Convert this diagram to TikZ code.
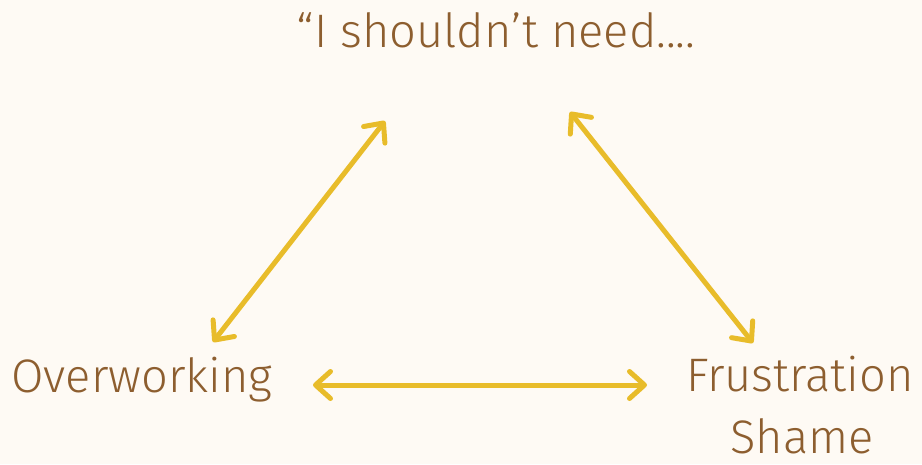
\documentclass[tikz,border=0pt]{standalone}
\usepackage{fontspec}
\setmainfont{Fira Sans}[UprightFont=* Light]
\usetikzlibrary{arrows.meta}
\definecolor{bg}{HTML}{FEFAF4}
\definecolor{txt}{HTML}{8D5E2F}
\definecolor{arr}{HTML}{E8BC2A}
\tikzset{
  lbl/.style={inner sep=0pt, text=txt, font=\fontsize{47}{66}\selectfont, anchor=base},
  link/.style={draw=arr, line width=5pt, line cap=round,
    {Straight Barb[round, length=15pt, width=27pt]}-{Straight Barb[round, length=15pt, width=27pt]}}
}
\begin{document}
\begin{tikzpicture}[x=1pt,y=-1pt]
\fill[bg] (0,0) rectangle (922,464);
\useasboundingbox (0,0) rectangle (922,464);
\node[lbl] (t) at (496,47) {“I shouldn’t need....};
\node[lbl] (o) at (142,392) {Overworking};
\node[lbl] (f) at (800,391) {Frustration};
\node[lbl, text depth=0pt] (s) at (802,453) {Shame};
\coordinate (a1) at (213,342);
\coordinate (a2) at (385,121);
\coordinate (b1) at (570,112);
\coordinate (b2) at (753,343);
\coordinate (c1) at (313,385);
\coordinate (c2) at (647,385);
\draw[link] (a1) -- (a2);
\draw[link] (b1) -- (b2);
\draw[link] (c1) -- (c2);
\end{tikzpicture}
\end{document}
